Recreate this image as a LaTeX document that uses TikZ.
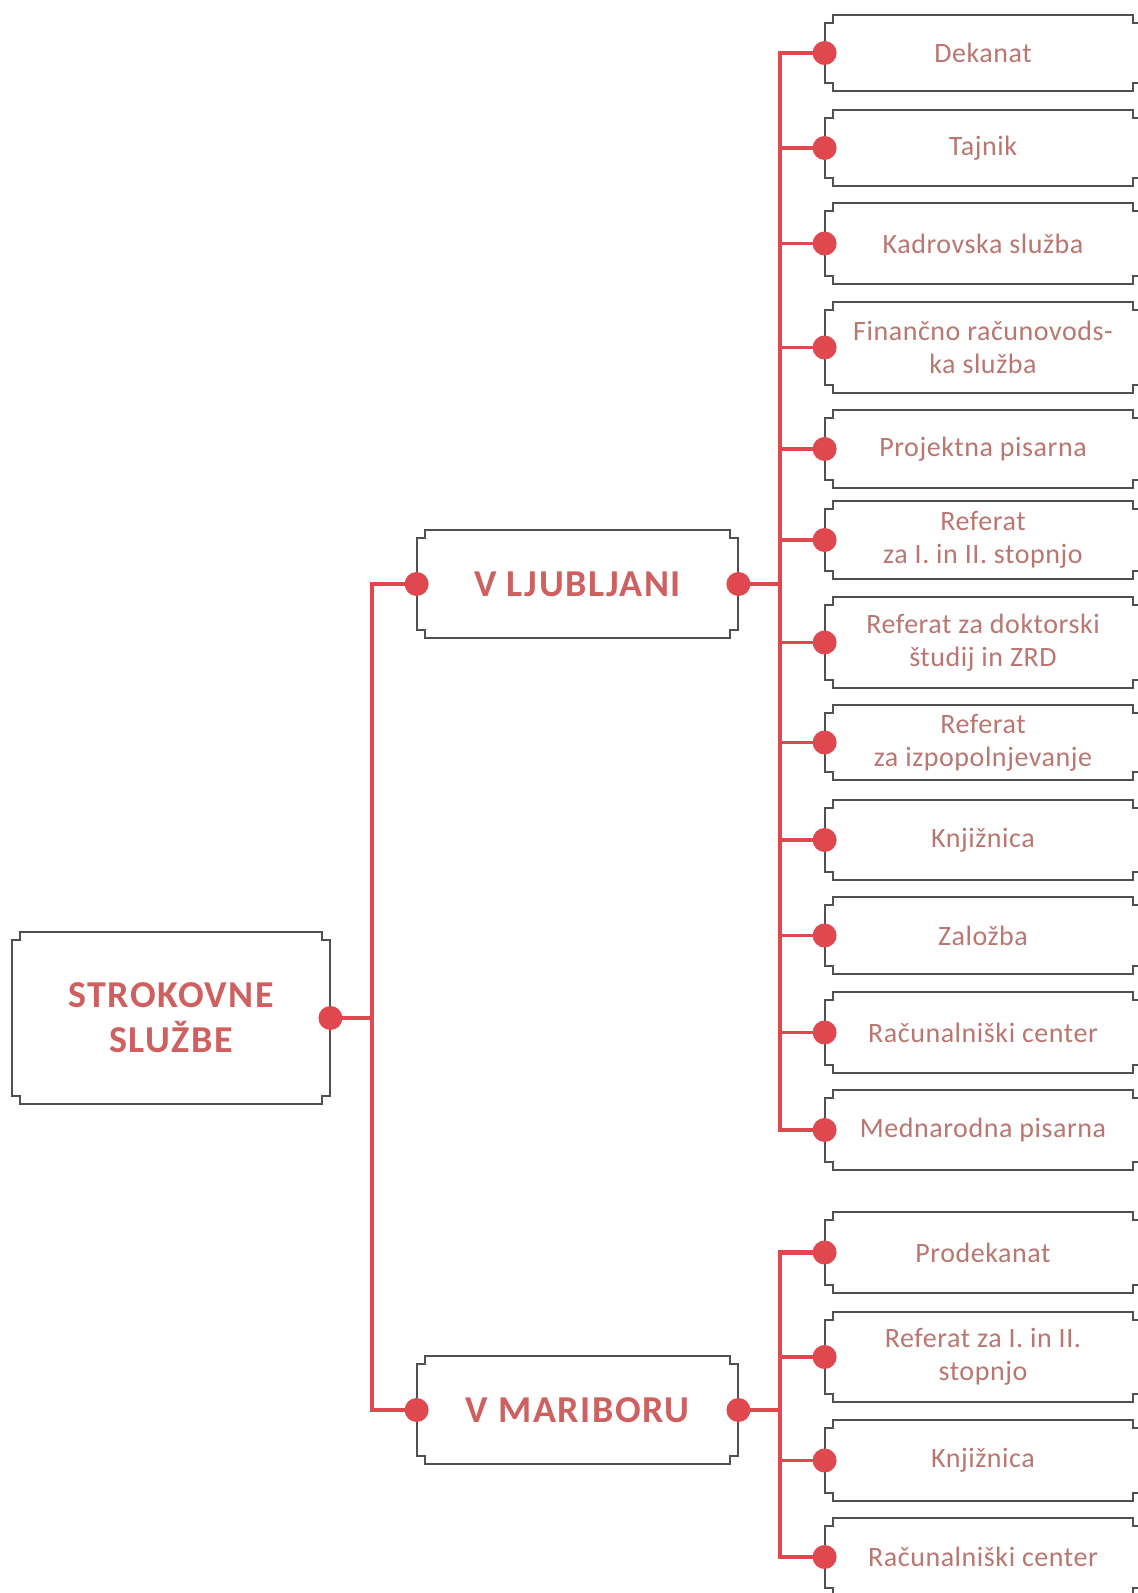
\documentclass[tikz,border=0pt]{standalone}
\usepackage{fontspec}
\setmainfont{Carlito}
\definecolor{linkred}{RGB}{222,72,78}
\definecolor{headtext}{RGB}{206,96,96}
\definecolor{unittext}{RGB}{186,118,112}
\definecolor{boxgrey}{RGB}{80,80,80}
\tikzset{
  boxline/.style={draw=boxgrey, line width=1pt},
  link/.style={draw=linkred, line width=2.3pt},
  twig/.style={draw=linkred, line width=1.6pt},
  head/.style={inner sep=0pt, align=center, text=headtext,
    font={\bfseries\fontsize{19}{22.5}\selectfont\addfontfeatures{LetterSpace=4}}},
  unit/.style={inner sep=0pt, align=center, text=unittext, minimum width=158pt,
    font={\fontsize{14}{16.5}\selectfont\addfontfeatures{LetterSpace=2}}},
}
% outline with square notches at the corners
\newcommand{\notchbox}[1]{%
  \draw[boxline] ([xshift=4pt]#1.north west) -- ([xshift=-4pt]#1.north east)
    -- ++(0,-4pt) -- ++(4pt,0) -- ([yshift=4pt]#1.south east) -- ++(-4pt,0)
    -- ++(0,-4pt) -- ([xshift=4pt]#1.south west) -- ++(0,4pt) -- ++(-4pt,0)
    -- ([yshift=-4pt]#1.north west) -- ++(4pt,0) -- cycle;}
\newcommand{\knob}[1]{\fill[linkred] (#1) circle (6pt);}
\begin{document}
\begin{tikzpicture}[x=0.5pt, y=-0.5pt]

  \clip (0,0) rectangle (1138,1593);
  \fill[white] (0,0) rectangle (1138,1593);

  % main levels
  \node[head, minimum width=159pt, minimum height=86pt] (root) at (171,1018) {STROKOVNE\\SLUŽBE};
  \node[head, minimum width=160.5pt, minimum height=54pt] (lj) at (577.5,584) {V LJUBLJANI};
  \node[head, minimum width=160.5pt, minimum height=54pt] (mb) at (577.5,1410) {V MARIBORU};

  % units in Ljubljana
  \node[unit, minimum height=38pt] (d1) at (983,53) {Dekanat};
  \node[unit, minimum height=38pt] (d2) at (983,148) {Tajnik};
  \node[unit, minimum height=40.5pt] (d3) at (983,243.5) {Kadrovska služba};
  \node[unit, minimum height=45.5pt] (d4) at (983,347.5) {Finančno računovods-\\ka služba};
  \node[unit, minimum height=39pt] (d5) at (983,449) {Projektna pisarna};
  \node[unit, minimum height=39pt] (d6) at (983,540) {Referat\\za I. in II. stopnjo};
  \node[unit, minimum height=45.5pt] (d7) at (983,642.5) {Referat za doktorski\\študij in ZRD};
  \node[unit, minimum height=37.5pt] (d8) at (983,742.5) {Referat\\za izpopolnjevanje};
  \node[unit, minimum height=40pt] (d9) at (983,840) {Knjižnica};
  \node[unit, minimum height=38.5pt] (d10) at (983,935.5) {Založba};
  \node[unit, minimum height=40.5pt] (d11) at (983,1032.5) {Računalniški center};
  \node[unit, minimum height=40pt] (d12) at (983,1130) {Mednarodna pisarna};

  % units in Maribor
  \node[unit, minimum height=40pt] (m1) at (983,1252.5) {Prodekanat};
  \node[unit, minimum height=45pt] (m2) at (983,1357) {Referat za I. in II.\\stopnjo};
  \node[unit, minimum height=40.5pt] (m3) at (983,1460.5) {Knjižnica};
  \node[unit, minimum height=39pt] (m4) at (983,1557) {Računalniški center};

  \foreach \n in {root,lj,mb,d1,d2,d3,d4,d5,d6,d7,d8,d9,d10,d11,d12,m1,m2,m3,m4}
    {\notchbox{\n}}

  % connectors
  \coordinate (spine) at (372,0);
  \coordinate (ljspine) at (780,0);
  \coordinate (mbspine) at (780,0);

  \draw[link] (root.east) -- (spine |- root.east);
  \draw[link] (lj.west) -| (spine |- mb.west) -- (mb.west);

  \draw[link] (lj.east) -- (ljspine |- lj.east);
  \draw[link] (d1.west) -| (ljspine |- d12.west) -- (d12.west);
  \foreach \n in {d2,d3,d4,d5,d6,d7,d8,d9,d10,d11}
    \draw[twig] (ljspine |- \n.west) -- (\n.west);

  \draw[link] (mb.east) -- (mbspine |- mb.east);
  \draw[link] (m1.west) -| (mbspine |- m4.west) -- (m4.west);
  \foreach \n in {m2,m3}
    \draw[twig] (mbspine |- \n.west) -- (\n.west);

  % knobs
  \knob{root.east}
  \knob{lj.west} \knob{lj.east}
  \knob{mb.west} \knob{mb.east}
  \foreach \n in {d1,d2,d3,d4,d5,d6,d7,d8,d9,d10,d11,d12,m1,m2,m3,m4}
    {\knob{\n.west}}

\end{tikzpicture}
\end{document}
